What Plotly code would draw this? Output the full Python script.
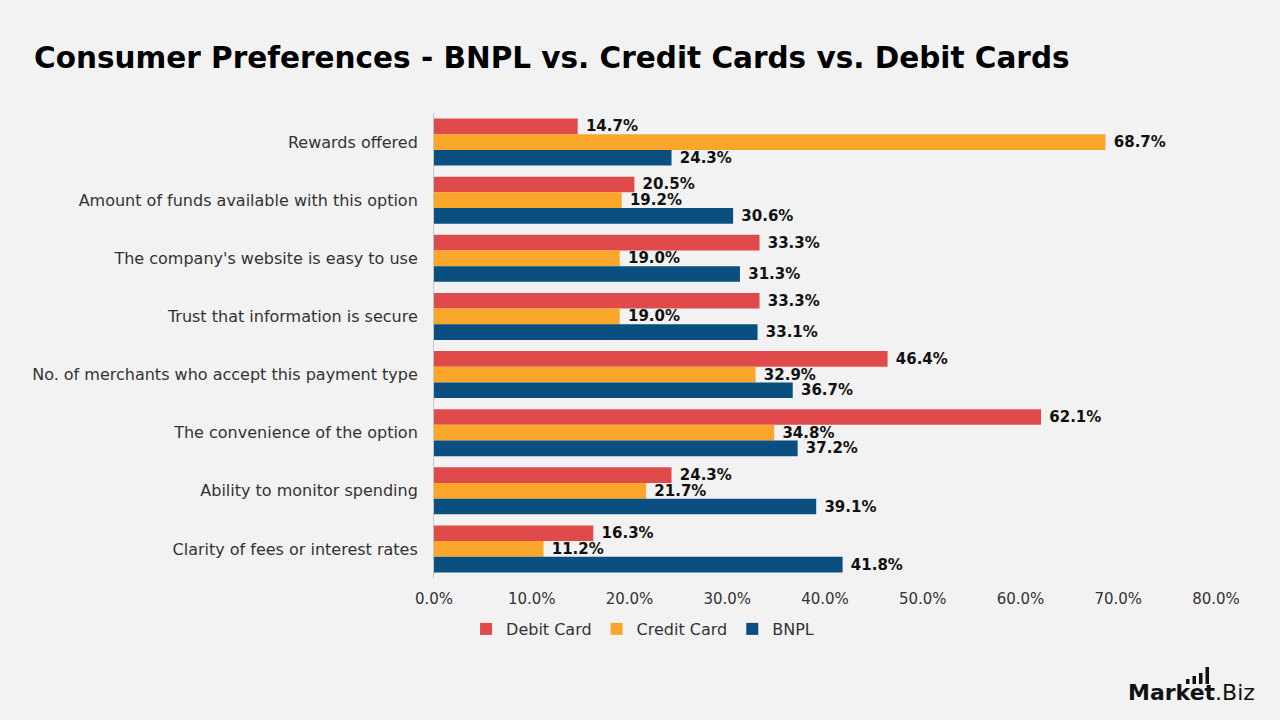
import plotly.graph_objects as go

categories = [
    "Rewards offered",
    "Amount of funds available with this option",
    "The company's website is easy to use",
    "Trust that information is secure",
    "No. of merchants who accept this payment type",
    "The convenience of the option",
    "Ability to monitor spending",
    "Clarity of fees or interest rates",
]
debit = [14.7, 20.5, 33.3, 33.3, 46.4, 62.1, 24.3, 16.3]
credit = [68.7, 19.2, 19.0, 19.0, 32.9, 34.8, 21.7, 11.2]
bnpl = [24.3, 30.6, 31.3, 33.1, 36.7, 37.2, 39.1, 41.8]
series = [("Debit Card", debit, "#E04A4A"), ("Credit Card", credit, "#F9A62B"), ("BNPL", bnpl, "#0B4F80")]

FONT = "DejaVu Sans"
fig = go.Figure()
for name, vals, col in series:
    fig.add_trace(go.Bar(
        y=categories, x=vals, name=name, orientation="h",
        marker=dict(color=col, line=dict(width=0)),
        text=[f"\u00a0{v:.1f}%" for v in vals], textposition="outside",
        constraintext="none",
        textfont=dict(family=FONT, size=15, color="#111111", weight="bold"),
        cliponaxis=False,
    ))

fig.update_layout(
    width=1280, height=720,
    paper_bgcolor="#F2F2F2", plot_bgcolor="#F2F2F2",
    margin=dict(l=434, r=64, t=113, b=142, autoexpand=False),
    barmode="group", bargap=0.19, bargroupgap=0,
    font=dict(family=FONT, size=16, color="#333333"),
    title=dict(text="<b>Consumer Preferences - BNPL vs. Credit Cards vs. Debit Cards</b>",
               x=34/1280, xanchor="left", y=1-58/720, yanchor="middle",
               font=dict(family=FONT, size=29.5, color="#000000")),
    xaxis=dict(range=[0, 80], dtick=10, tickformat=".1f", ticksuffix="%",
               showgrid=False, zeroline=False, showline=False, ticks="",
               ticklabelstandoff=10, automargin=False,
               tickfont=dict(size=15, color="#333333")),
    yaxis=dict(autorange="reversed", showgrid=False, zeroline=False,
               showline=True, linecolor="#C8C8C8", linewidth=1, ticks="",
               ticklabelstandoff=12, automargin=False,
               tickfont=dict(size=16, color="#333333")),
    legend=dict(orientation="h", xref="container", x=0.502, xanchor="center",
                yref="container", y=1-629/720, yanchor="middle",
                font=dict(size=16, color="#333333"),
                bgcolor="rgba(0,0,0,0)", itemwidth=30, traceorder="normal"),
    showlegend=True,
)
fig.add_annotation(text="<b>Market</b>.Biz", xref="paper", yref="paper",
                   x=(1257-434)/(1280-434-64), y=-(692-578)/465, xanchor="right", yanchor="middle",
                   showarrow=False, font=dict(family=FONT, size=22, color="#111111"))
# small logo bar icon
for i, h in enumerate([5, 8, 11, 17]):
    x0 = 1186 + i * 6.5
    fig.add_shape(type="rect", xref="paper", yref="paper",
                  x0=(x0 - 434) / 782, x1=(x0 + 3.5 - 434) / 782,
                  y0=-(684 - 578) / 465, y1=-(684 - h - 578) / 465,
                  fillcolor="#111111", line=dict(width=0))
fig.write_html("out.html")
